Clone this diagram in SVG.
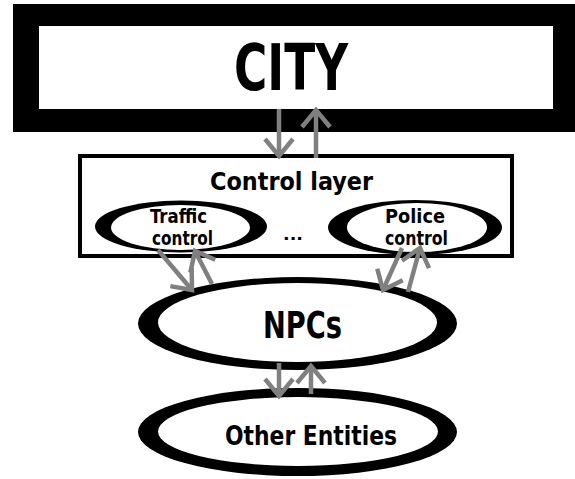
<svg xmlns="http://www.w3.org/2000/svg" width="575" height="479" viewBox="0 0 575 479">
  <style>
    .lbl { font-family: "DejaVu Sans Condensed", "DejaVu Sans", "Liberation Sans", sans-serif; font-weight: bold; fill: #000; text-anchor: middle; }
    .blk { fill: #000; }
    .wht { fill: #fff; }
    .conn { stroke: #808080; stroke-width: 4.5; fill: none; marker-end: url(#ah); }
  </style>
  <defs>
    <marker id="ah" markerUnits="userSpaceOnUse" viewBox="-20 -20 40 40" markerWidth="40" markerHeight="40" refX="0" refY="0" orient="auto" overflow="visible">
      <path d="M-17,-14 L0,0 L-17,14" fill="none" stroke="#808080" stroke-width="4.5"/>
    </marker>
  </defs>
  <rect width="575" height="479" fill="#fff"/>

  <g id="city">
    <rect class="blk" x="13" y="4" width="562" height="128"/>
    <rect class="wht" x="39" y="26" width="514" height="83"/>
    <text class="lbl" x="291" y="90" font-size="64" textLength="114" lengthAdjust="spacingAndGlyphs">CITY</text>
  </g>

  <g id="control-layer">
    <rect x="80" y="156" width="432" height="100" fill="#fff" stroke="#000" stroke-width="4"/>
    <text class="lbl" x="291.5" y="190" font-size="25" textLength="163" lengthAdjust="spacingAndGlyphs">Control layer</text>
  </g>

  <g id="traffic-control">
    <ellipse class="blk" cx="181" cy="226.5" rx="86" ry="26"/>
    <ellipse class="wht" cx="180.5" cy="227.5" rx="69.5" ry="22.5"/>
    <text class="lbl" x="178.5" y="223" font-size="19" textLength="57" lengthAdjust="spacingAndGlyphs">Traffic</text>
    <text class="lbl" x="182.5" y="245" font-size="19" textLength="61" lengthAdjust="spacingAndGlyphs">control</text>
  </g>

  <g id="ellipsis">
    <text class="lbl" x="293" y="240" font-size="16" textLength="20" lengthAdjust="spacingAndGlyphs">...</text>
  </g>

  <g id="police-control">
    <ellipse class="blk" cx="415" cy="227.5" rx="87" ry="27.5"/>
    <ellipse class="wht" cx="417" cy="227.5" rx="70" ry="24.5"/>
    <text class="lbl" x="415" y="223" font-size="19" textLength="60" lengthAdjust="spacingAndGlyphs">Police</text>
    <text class="lbl" x="416.5" y="245" font-size="19" textLength="63" lengthAdjust="spacingAndGlyphs">control</text>
  </g>

  <g id="npcs">
    <ellipse class="blk" cx="297.5" cy="323.5" rx="159.5" ry="46.5"/>
    <ellipse class="wht" cx="297.5" cy="322.5" rx="139.5" ry="39.5"/>
    <text class="lbl" x="302.5" y="338" font-size="38" textLength="79" lengthAdjust="spacingAndGlyphs">NPCs</text>
  </g>

  <g id="other-entities">
    <ellipse class="blk" cx="297.5" cy="432" rx="159.5" ry="44"/>
    <ellipse class="wht" cx="298" cy="431.5" rx="140" ry="34.5"/>
    <text class="lbl" x="311" y="445" font-size="27" textLength="172" lengthAdjust="spacingAndGlyphs">Other Entities</text>
  </g>

  <g id="connectors">
    <path class="conn" d="M279,109 L279,156"/>
    <path class="conn" d="M316,158 L316,110"/>
    <path class="conn" d="M158,250 L192,290"/>
    <path class="conn" d="M212,284 L195,251"/>
    <path class="conn" d="M402,248 L383,290"/>
    <path class="conn" d="M408,292 L420,248"/>
    <path class="conn" d="M279,363 L279,396"/>
    <path class="conn" d="M311,394 L311,366"/>
  </g>
</svg>
